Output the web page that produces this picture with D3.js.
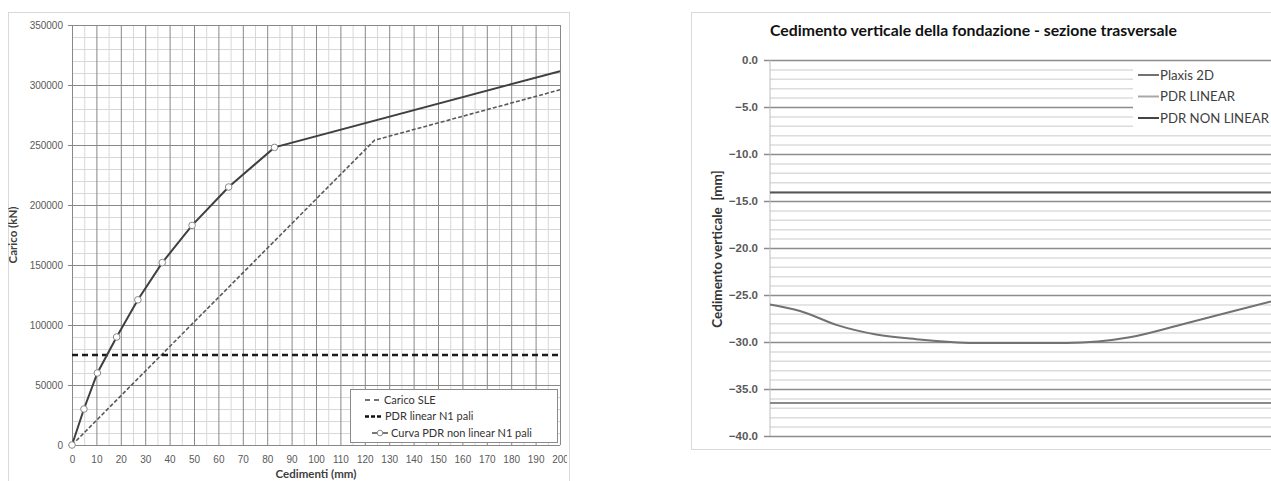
<!DOCTYPE html>
<html>
<head>
<meta charset="utf-8">
<script src="https://cdn.jsdelivr.net/npm/d3@7"></script>
<style>
  body { margin: 0; background: #fff; }
  svg { font-family: Lato, "Open Sans", sans-serif; }
  .tick text { fill: #595959; }
  .domain { display: none; }
</style>
</head>
<body>
<svg id="chart" width="1271" height="481"></svg>
<script>
// Left chart: load vs settlement
const loadTicks = [0, 50000, 100000, 150000, 200000, 250000, 300000, 350000];
const settlementTicks = [0, 10, 20, 30, 40, 50, 60, 70, 80, 90, 100, 110, 120, 130, 140, 150, 160, 170, 180, 190, 200];
const sleLoad = 75000;
const linearSettlement = [0, 124, 200];
const linearLoad = [0, 254000, 296000];
const nonLinearSettlement = [0, 4.9, 10.4, 18.3, 27, 37, 49.2, 64.2, 83, 200];
const nonLinearLoad = [0, 30000, 60000, 90000, 121000, 152000, 183000, 215000, 248000, 311500];
const leftLegend = ['Carico SLE', 'PDR linear N1 pali', 'Curva PDR non linear N1 pali'];

// Right chart: transverse section settlement
const verticalTicks = [0, -5, -10, -15, -20, -25, -30, -35, -40];
const sectionPos = [0, 3, 6.7, 10.6, 14.6, 20.3, 29.6, 35.9, 40.9, 45.9, 50];
const plaxis2D = [-26.0, -26.7, -28.2, -29.2, -29.7, -30.1, -30.1, -29.5, -28.2, -26.8, -25.7];
const pdrLinear = -36.5;
const pdrNonLinear = -14.1;
const rightLegend = ['Plaxis 2D', 'PDR LINEAR', 'PDR NON LINEAR'];

const svg = d3.select('#chart');

// ---------- left chart ----------
svg.append('clipPath').attr('id', 'leftFrame')
    .append('rect').attr('x', 8).attr('y', 12).attr('width', 559).attr('height', 470);

svg.append('rect')
    .attr('x', 8.5).attr('y', 12.5).attr('width', 561).attr('height', 480)
    .attr('fill', 'none').attr('stroke', '#d9d9d9');

const lm = { left: 72, right: 560, top: 25, bottom: 445 };
const x1 = d3.scaleLinear().domain([0, 200]).range([lm.left, lm.right]);
const y1 = d3.scaleLinear().domain([0, 350000]).range([lm.bottom, lm.top]);
const left = svg.append('g').attr('clip-path', 'url(#leftFrame)');

const minorX = d3.range(5, 200, 10);
const minorY = d3.range(0, 350001, 10000).filter((v) => v % 50000 !== 0);

// minor grid
left.append('g')
    .attr('transform', `translate(0,${lm.bottom})`)
    .call(d3.axisBottom(x1).tickValues(minorX).tickSize(-(lm.bottom - lm.top)).tickFormat(''))
    .selectAll('line').attr('stroke', '#d8d8d8');
left.append('g')
    .attr('transform', `translate(${lm.left},0)`)
    .call(d3.axisLeft(y1).tickValues(minorY).tickSize(-(lm.right - lm.left)).tickFormat(''))
    .selectAll('line').attr('stroke', '#d8d8d8');

// major grid + labels
const xAxis1 = left.append('g')
    .attr('transform', `translate(0,${lm.bottom})`)
    .call(d3.axisBottom(x1).tickValues(settlementTicks).tickSize(-(lm.bottom - lm.top)).tickPadding(8));
xAxis1.selectAll('line').attr('stroke', '#888');
xAxis1.selectAll('text').attr('font-size', 10).attr('dy', '0.75em').attr('y', 10);

const yAxis1 = left.append('g')
    .attr('transform', `translate(${lm.left},0)`)
    .call(d3.axisLeft(y1).tickValues(loadTicks).tickSize(-(lm.right - lm.left)).tickPadding(9).tickFormat(d3.format('d')));
yAxis1.selectAll('line').attr('stroke', '#888').attr('x1', -4);
yAxis1.selectAll('text').attr('font-size', 10);

// series
const lineGen = d3.line().x((d) => x1(d[0])).y((d) => y1(d[1]));

left.append('path')
    .datum(d3.zip(linearSettlement, linearLoad))
    .attr('d', lineGen)
    .attr('fill', 'none').attr('stroke', '#5a5a5a').attr('stroke-width', 1.6)
    .attr('stroke-dasharray', '4,2');

left.append('path')
    .datum([[0, sleLoad], [200, sleLoad]])
    .attr('d', lineGen)
    .attr('fill', 'none').attr('stroke', '#1a1a1a').attr('stroke-width', 2.4)
    .attr('stroke-dasharray', '6,4');

const nonLin = d3.zip(nonLinearSettlement, nonLinearLoad);
left.append('path')
    .datum(nonLin)
    .attr('d', lineGen)
    .attr('fill', 'none').attr('stroke', '#404040').attr('stroke-width', 2);

left.selectAll('circle.mk')
    .data(nonLin.filter((d) => d[0] < 200))
    .join('circle')
    .attr('class', 'mk')
    .attr('cx', (d) => x1(d[0])).attr('cy', (d) => y1(d[1]))
    .attr('r', 3.3)
    .attr('fill', '#fff').attr('stroke', '#8a8a8a').attr('stroke-width', 1);

// axis titles
left.append('text')
    .attr('transform', `translate(17,${(lm.top + lm.bottom) / 2}) rotate(-90)`)
    .attr('text-anchor', 'middle')
    .attr('font-size', 11.5).attr('font-weight', 'bold').attr('fill', '#404040')
    .text('Carico (kN)');
left.append('text')
    .attr('x', (lm.left + lm.right) / 2).attr('y', 478)
    .attr('text-anchor', 'middle')
    .attr('font-size', 11.5).attr('font-weight', 'bold').attr('fill', '#404040')
    .text('Cedimenti (mm)');

// legend
const lg1 = left.append('g');
lg1.append('rect')
    .attr('x', 350.5).attr('y', 389.5).attr('width', 207).attr('height', 53)
    .attr('fill', '#fff').attr('stroke', '#8a8a8a');
const legendStyles1 = [
    { stroke: '#444', width: 1.6, dash: '5,4', marker: false, x1: 365, x2: 381 },
    { stroke: '#111', width: 2.4, dash: '4,2', marker: false, x1: 365, x2: 382 },
    { stroke: '#555', width: 1.6, dash: null, marker: true, x1: 372, x2: 388 }
];
leftLegend.forEach((label, i) => {
    const ly = 400 + i * 16.5;
    const st = legendStyles1[i];
    lg1.append('line')
        .attr('x1', st.x1).attr('x2', st.x2).attr('y1', ly).attr('y2', ly)
        .attr('stroke', st.stroke).attr('stroke-width', st.width)
        .attr('stroke-dasharray', st.dash);
    if (st.marker) {
        lg1.append('circle').attr('cx', (st.x1 + st.x2) / 2).attr('cy', ly).attr('r', 2.8)
            .attr('fill', '#fff').attr('stroke', '#8a8a8a');
    }
    lg1.append('text')
        .attr('x', st.x2 + 3).attr('y', ly).attr('dy', '0.35em')
        .attr('font-size', 11).attr('fill', '#333')
        .text(label);
});

// ---------- right chart ----------
svg.append('rect')
    .attr('x', 691.5).attr('y', 12.5).attr('width', 600).attr('height', 437)
    .attr('fill', 'none').attr('stroke', '#d9d9d9');

const rm = { left: 770, right: 1271, top: 60, bottom: 436 };
const x2 = d3.scaleLinear().domain([0, 50]).range([rm.left, rm.right]);
const y2 = d3.scaleLinear().domain([-40, 0]).range([rm.bottom, rm.top]);
const right = svg.append('g');

const minorY2 = d3.range(-39, 0, 1).filter((v) => v % 5 !== 0);
right.append('g')
    .attr('transform', `translate(${rm.left},0)`)
    .call(d3.axisLeft(y2).tickValues(minorY2).tickSize(-(rm.right - rm.left)).tickFormat(''))
    .selectAll('line').attr('stroke', '#dcdcdc').attr('stroke-width', 1.5);

const yAxis2 = right.append('g')
    .attr('transform', `translate(${rm.left},0)`)
    .call(d3.axisLeft(y2).tickValues(verticalTicks).tickSize(-(rm.right - rm.left)).tickPadding(12).tickFormat(d3.format('.1f')));
yAxis2.selectAll('line').attr('stroke', '#8c8c8c').attr('stroke-width', 1.5).attr('x1', -6);
yAxis2.selectAll('text').attr('font-size', 11.5).attr('font-weight', 600);

right.append('line')
    .attr('x1', rm.left).attr('x2', rm.left).attr('y1', rm.top).attr('y2', rm.bottom)
    .attr('stroke', '#bdbdbd');

// series
const lineGen2 = d3.line().x((d) => x2(d[0])).y((d) => y2(d[1]));
right.append('path')
    .datum([[0, pdrLinear], [50, pdrLinear]])
    .attr('d', lineGen2)
    .attr('fill', 'none').attr('stroke', '#8a8a8a').attr('stroke-width', 2);
right.append('path')
    .datum([[0, pdrNonLinear], [50, pdrNonLinear]])
    .attr('d', lineGen2)
    .attr('fill', 'none').attr('stroke', '#555').attr('stroke-width', 2);
right.append('path')
    .datum(d3.zip(sectionPos, plaxis2D))
    .attr('d', lineGen2.curve(d3.curveMonotoneX))
    .attr('fill', 'none').attr('stroke', '#727272').attr('stroke-width', 2);

// title and axis title
right.append('text')
    .attr('x', 770).attr('y', 36)
    .attr('font-size', 15.8).attr('font-weight', 'bold').attr('fill', '#111')
    .text('Cedimento verticale della fondazione - sezione trasversale');
right.append('text')
    .attr('transform', `translate(722,${(rm.top + rm.bottom) / 2 + 1}) rotate(-90)`)
    .attr('text-anchor', 'middle')
    .style('white-space', 'pre')
    .attr('font-size', 13.5).attr('font-weight', 'bold').attr('fill', '#333')
    .text('Cedimento verticale  [mm]');

// legend
const lg2 = right.append('g');
lg2.append('rect')
    .attr('x', 1133).attr('y', 63).attr('width', 140).attr('height', 65)
    .attr('fill', '#fff');
const legendColors2 = ['#727272', '#a8a8a8', '#444'];
rightLegend.forEach((label, i) => {
    const ly = 75 + i * 21.5;
    lg2.append('line')
        .attr('x1', 1138).attr('x2', 1159).attr('y1', ly).attr('y2', ly)
        .attr('stroke', legendColors2[i]).attr('stroke-width', 2);
    lg2.append('text')
        .attr('x', 1160).attr('y', ly).attr('dy', '0.35em')
        .attr('font-size', 13.2).attr('fill', '#404040')
        .text(label);
});
</script>
</body>
</html>
